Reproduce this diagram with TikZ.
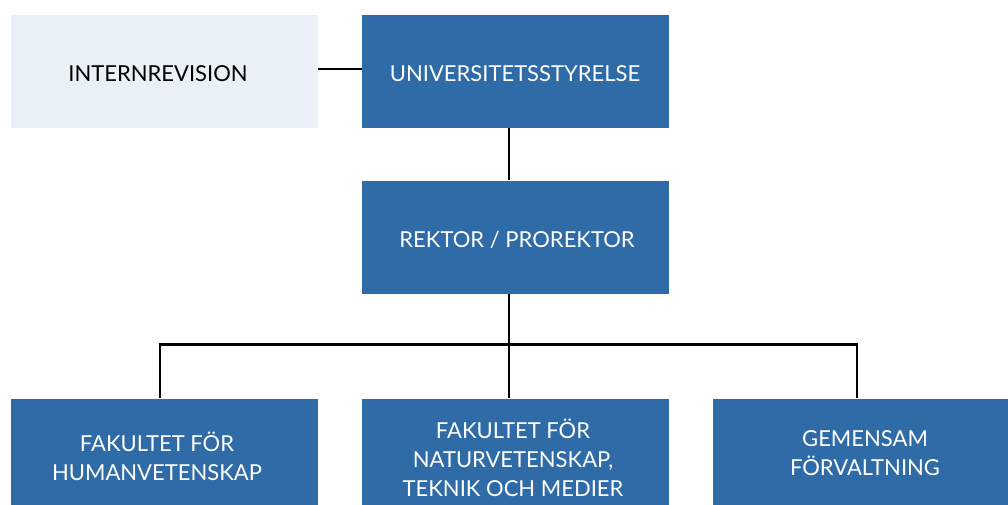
\documentclass[tikz,border=0pt]{standalone}
\usepackage{fontspec}
\setmainfont{Lato}
\definecolor{dblue}{HTML}{2F6BA7}
\definecolor{lblue}{HTML}{E9F0F7}
\tikzset{
  box/.style={draw=none, fill=dblue, text=white, minimum width=307pt, minimum height=113pt, align=center, inner sep=0pt, font=\fontsize{22}{29}\selectfont},
  lbox/.style={box, fill=lblue, text=black},
  conn/.style={draw=black, line width=2.2pt},
}
\begin{document}
\begin{tikzpicture}[x=1pt,y=-1pt]
\useasboundingbox (0,0) rectangle (1008,504);
\clip (0,0) rectangle (1008,504);
\node[lbox] (intern) at (164,71.5) {};
\node[box] (styr) at (515.5,71.5) {};
\node[box] (rektor) at (515.5,237) {};
\node[box] (hum) at (164,455) {};
\node[box] (nat) at (515.5,455) {};
\node[box, minimum width=310pt] (gem) at (868,455) {};
\node[font=\fontsize{22}{29}\selectfont, text=black] (t1) at (158,74) {INTERNREVISION};
\node[font=\fontsize{22}{29}\selectfont, text=white] (t2) at (515,74) {UNIVERSITETSSTYRELSE};
\node[font=\fontsize{22}{29}\selectfont, text=white] (t3) at (517,240) {REKTOR / PROREKTOR};
\node[font=\fontsize{22}{29}\selectfont, text=white, align=center] (t4) at (157,456) {FAKULTET FÖR\\HUMANVETENSKAP};
\node[font=\fontsize{22}{29}\selectfont, text=white, align=center] (t5) at (513,458) {FAKULTET FÖR\\NATURVETENSKAP,\\TEKNIK OCH MEDIER};
\node[font=\fontsize{22}{29}\selectfont, text=white, align=center] (t6) at (865,453) {GEMENSAM\\FÖRVALTNING};
\coordinate (bus) at (509,344.5);
\draw[conn, line width=2.8pt] (intern.east |- 0,69) -- (styr.west |- 0,69);
\draw[conn, line width=2.5pt] (styr.south -| bus) -- (rektor.north -| bus);
\draw[conn, line width=2.5pt] (rektor.south -| bus) -- (bus);
\draw[conn] (hum.north -| 160,0) |- (bus) -| (gem.north -| 857,0);
\draw[conn, line width=2.5pt] (bus) -- (nat.north -| bus);
\end{tikzpicture}
\end{document}
